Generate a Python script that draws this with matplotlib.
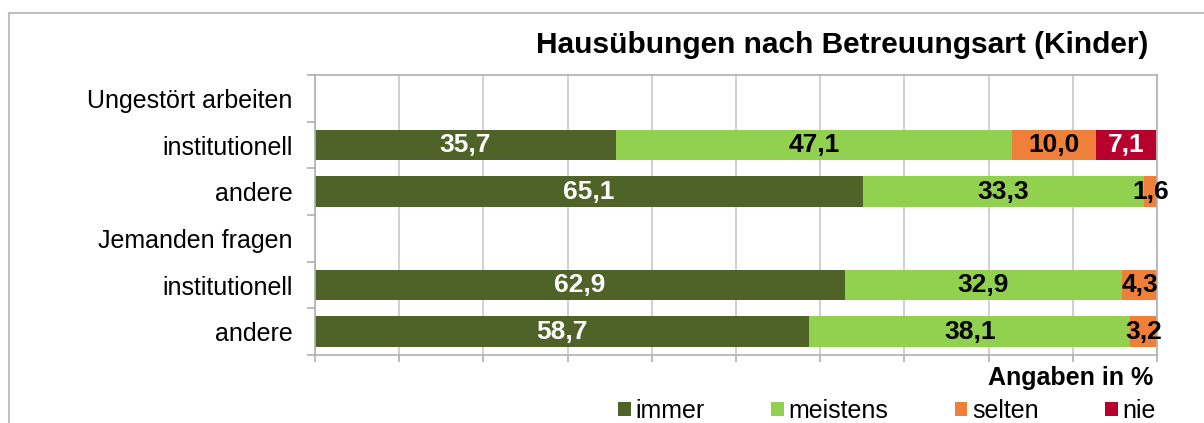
import matplotlib.pyplot as plt
from matplotlib.patches import Rectangle

plt.rcParams['font.family'] = ['Liberation Sans', 'DejaVu Sans']

# rows from top to bottom; empty rows are group headers
categories = ["Ungestört arbeiten", "institutionell", "andere",
              "Jemanden fragen", "institutionell", "andere"]
series = ["immer", "meistens", "selten", "nie"]
immer = [0, 35.7, 65.1, 0, 62.9, 58.7]
meistens = [0, 47.1, 33.3, 0, 32.9, 38.1]
selten = [0, 10.0, 1.6, 0, 4.3, 3.2]
nie = [0, 7.1, 0, 0, 0, 0]

colors = ["#4F6228", "#92D050", "#F07F3A", "#B7002B"]
text_colors = ["white", "black", "black", "white"]

fig = plt.figure(figsize=(12.04, 4.23), dpi=100)
# outer chart frame (runs off the right and bottom edges)
fig.patches.append(Rectangle((9 / 1204, -0.1), 1.2, 1 - 13 / 423 + 0.1,
                             transform=fig.transFigure, fill=False,
                             edgecolor="#C0C0C0", linewidth=1.5))

ax = fig.add_axes([315 / 1204, 1 - 355 / 423, 842 / 1204, 280 / 423])

ypos = list(range(len(categories)))
left = [0] * len(categories)
for name, vals, col, tcol in zip(series, [immer, meistens, selten, nie], colors, text_colors):
    ax.barh(ypos, vals, left=left, height=0.66, color=col, label=name)
    for y, v, l in zip(ypos, vals, left):
        if v > 0:
            ax.text(l + v / 2, y, f"{v:.1f}".replace(".", ","), ha="center", va="center",
                    color=tcol, fontsize=19, fontweight="bold")
    left = [a + b for a, b in zip(left, vals)]

ax.set_xlim(0, 100)
ax.set_ylim(len(categories) - 0.5, -0.5)
ax.set_xticks(range(0, 101, 10))
ax.set_xticklabels([])
ax.set_yticks([i - 0.5 for i in range(len(categories) + 1)], minor=False)
ax.set_yticklabels([])
ax.set_yticks(ypos, minor=True)
ax.set_yticklabels(categories, minor=True, fontsize=18)
ax.tick_params(axis="y", which="minor", length=0, pad=16)
ax.tick_params(axis="y", which="major", length=6, color="#B0B0B0", width=1.2)
ax.tick_params(axis="x", length=5, color="#B0B0B0", width=1.2)
ax.grid(axis="x", color="#C8C8C8", linewidth=1.2)
ax.set_axisbelow(True)
for s in ax.spines.values():
    s.set_color("#B0B0B0")
    s.set_linewidth(1.2)

fig.text(1148 / 1204, 1 - 45 / 423, "Hausübungen nach Betreuungsart (Kinder)",
         ha="right", va="center", fontsize=21.5, fontweight="bold")
fig.text(1153 / 1204, 1 - 378 / 423, "Angaben in %",
         ha="right", va="center", fontsize=18, fontweight="bold")

fig.legend(loc="center", bbox_to_anchor=(887 / 1204, 1 - 411 / 423), ncol=4,
           frameon=False, fontsize=18, handlelength=0.5, handleheight=0.5,
           handletextpad=0.2, columnspacing=2.65, borderpad=0)

fig.savefig("out.png", dpi=100)
